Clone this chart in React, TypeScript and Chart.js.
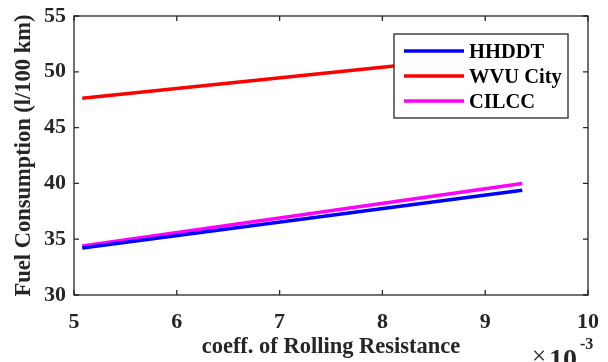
import React, { useEffect, useRef } from "react";
import { Chart, registerables } from "chart.js";

Chart.register(...registerables);

// coefficient of rolling resistance (x 10^-3)
const rollingCoeff = [5.08, 9.36];
const seriesLabels = ["HHDDT", "WVU City", "CILCC"];
const hhddt = [34.22, 39.38];
const wvuCity = [47.62, 51.71];
const cilcc = [34.4, 40.0];
const seriesColors = ["#0000ff", "#ff0000", "#ff00ff"];
const xTicksRange = { min: 5, max: 10, step: 1 };
const yTicksRange = { min: 30, max: 55, step: 5 };

const AX = "#262626";
const FONT = "'Liberation Serif', 'Times New Roman', serif";

const boxPlugin = {
  id: "matlabBox",
  afterDraw(chart: any) {
    const { ctx, chartArea, scales } = chart;
    const { left, right, top, bottom } = chartArea;
    ctx.save();
    ctx.strokeStyle = AX;
    ctx.lineWidth = 1.3;
    ctx.strokeRect(left, top, right - left, bottom - top);
    const tl = 5;
    ctx.beginPath();
    scales.x.ticks.forEach((t: any) => {
      const px = scales.x.getPixelForValue(t.value);
      ctx.moveTo(px, bottom);
      ctx.lineTo(px, bottom - tl);
      ctx.moveTo(px, top);
      ctx.lineTo(px, top + tl);
    });
    scales.y.ticks.forEach((t: any) => {
      const py = scales.y.getPixelForValue(t.value);
      ctx.moveTo(left, py);
      ctx.lineTo(left + tl, py);
      ctx.moveTo(right, py);
      ctx.lineTo(right - tl, py);
    });
    ctx.stroke();

    // legend
    const lw = 174, lh = 84;
    const lx = right - 20 - lw;
    const ly = top + 18;
    ctx.fillStyle = "#ffffff";
    ctx.fillRect(lx, ly, lw, lh);
    ctx.strokeStyle = AX;
    ctx.lineWidth = 1.3;
    ctx.strokeRect(lx, ly, lw, lh);
    ctx.font = `bold 20.5px ${FONT}`;
    ctx.textBaseline = "alphabetic";
    ctx.textAlign = "left";
    chart.data.datasets.forEach((ds: any, i: number) => {
      const cy = ly + 17 + i * 25;
      ctx.strokeStyle = ds.borderColor;
      ctx.lineWidth = 3.5;
      ctx.beginPath();
      ctx.moveTo(lx + 10, cy);
      ctx.lineTo(lx + 70, cy);
      ctx.stroke();
      ctx.fillStyle = "#000000";
      ctx.fillText(ds.label, lx + 75, cy + 7);
    });

    // exponent
    ctx.fillStyle = AX;
    ctx.font = `25px ${FONT}`;
    ctx.fillText("\u00d7", 532, 364);
    ctx.font = `bold 28px ${FONT}`;
    ctx.fillText("10", 549, 368);
    ctx.font = `bold 16px ${FONT}`;
    ctx.fillText("-3", 580, 349);
    ctx.restore();
  },
};

export default function App() {
  const ref = useRef<HTMLCanvasElement>(null);
  useEffect(() => {
    document.body.style.margin = "0";
    const mk = (vals: number[]) => rollingCoeff.map((x, i) => ({ x, y: vals[i] }));
    const all = [hhddt, wvuCity, cilcc];
    const chart = new Chart(ref.current!, {
      type: "line",
      data: {
        datasets: all.map((vals, i) => ({
          label: seriesLabels[i],
          data: mk(vals),
          borderColor: seriesColors[i],
          backgroundColor: seriesColors[i],
          borderWidth: 3.5,
          pointRadius: 0,
          tension: 0,
          fill: false,
        })),
      },
      options: {
        animation: false,
        responsive: false,
        layout: { padding: { top: 16, right: 20, bottom: 0, left: 0 } },
        plugins: { legend: { display: false }, tooltip: { enabled: false } },
        scales: {
          x: {
            type: "linear",
            min: xTicksRange.min,
            max: xTicksRange.max,
            ticks: {
              stepSize: xTicksRange.step,
              color: AX,
              font: { family: FONT, size: 22, weight: "bold" },
              padding: 14,
              maxRotation: 0,
            },
            grid: { display: false, drawTicks: false },
            border: { display: false },
            title: {
              display: true,
              text: "coeff. of Rolling Resistance",
              color: AX,
              font: { family: FONT, size: 22.5, weight: "bold" },
              padding: { top: 0, bottom: 1 },
            },
            afterFit: (s: any) => {
              s.height = 67;
              s.paddingLeft = 0;
              s.paddingRight = 0;
            },
          },
          y: {
            type: "linear",
            min: yTicksRange.min,
            max: yTicksRange.max,
            ticks: {
              stepSize: yTicksRange.step,
              color: AX,
              font: { family: FONT, size: 22, weight: "bold" },
              padding: 8,
            },
            grid: { display: false, drawTicks: false },
            border: { display: false },
            title: {
              display: true,
              text: "Fuel Consumption (l/100 km)",
              color: AX,
              font: { family: FONT, size: 22.5, weight: "bold" },
              padding: { top: 11, bottom: 0 },
            },
            afterFit: (s: any) => {
              s.width = 74;
              s.paddingTop = 0;
              s.paddingBottom = 0;
            },
          },
        },
      } as any,
      plugins: [boxPlugin],
    });
    return () => chart.destroy();
  }, []);
  return (
    <div style={{ width: 608, height: 362, background: "#fff" }}>
      <canvas ref={ref} width={608} height={362} style={{ display: "block" }} />
    </div>
  );
}
